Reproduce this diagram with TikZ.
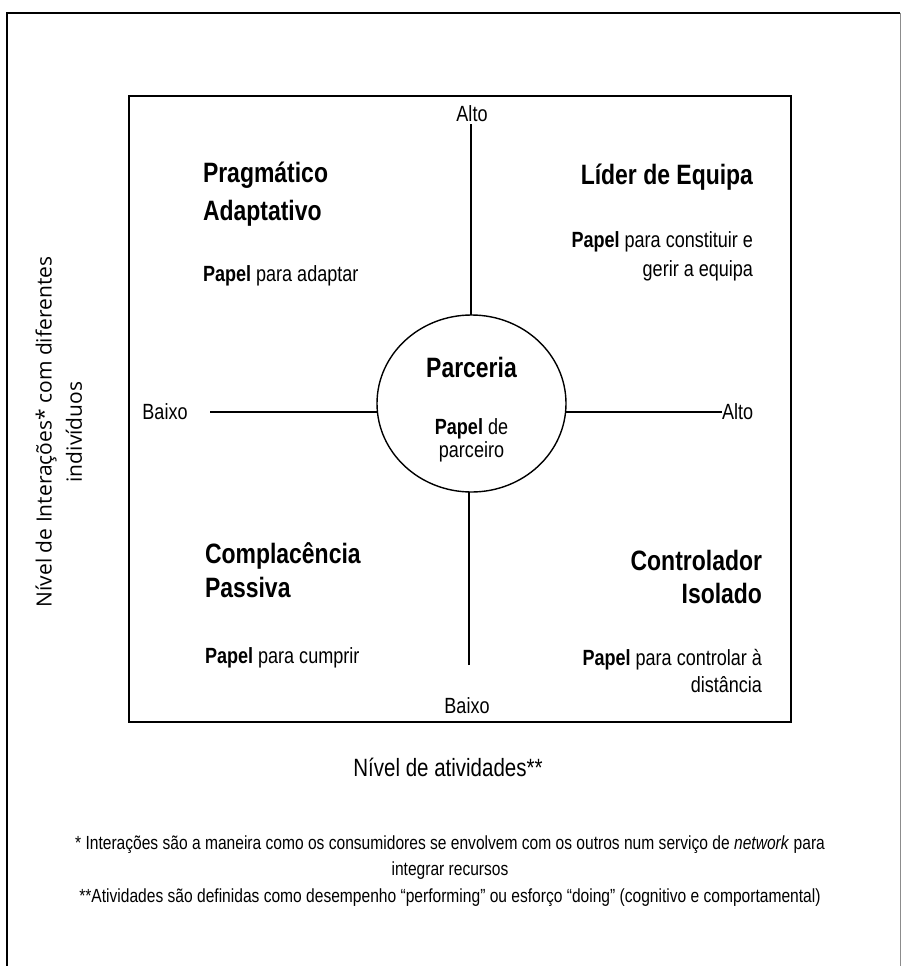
\documentclass[tikz,border=0pt]{standalone}
\usepackage{fontspec}
\setmainfont{Liberation Sans}[FakeStretch=0.82]
\newfontfamily\axisfont{Open Sans}
\usetikzlibrary{shapes.geometric}
\begin{document}
\begin{tikzpicture}[x=1pt,y=-1pt,
  every node/.style={inner sep=0pt,outer sep=0pt},
  title/.style={font=\fontsize{28}{30}\selectfont\bfseries},
  body/.style={font=\fontsize{22}{24}\selectfont},
  axis/.style={line width=1.4pt},
  ylabel/.style={font=\axisfont\fontsize{21}{24}\selectfont,rotate=90,anchor=center},
  note/.style={font=\fontsize{19}{21}\selectfont}]
\useasboundingbox (0,0) rectangle (902,966);
% outer frame (open at the bottom)
\draw[line width=2pt] (6.5,966) -- (6.5,13) -- (900,13);
\draw[line width=1pt,black!45] (900.5,13) -- (900.5,966);
% quadrant box
\draw[line width=2pt] (129,96) rectangle (791,722);

% centre
\node[draw,ellipse,line width=1.4pt,minimum width=189pt,minimum height=177pt] (parc) at (471.5,403.5) {};
\node[title,anchor=base] (parct) at (471.5,377) {Parceria};
\node[body,anchor=base] (parc1) at (471.5,434) {\textbf{Papel} de};
\node[body,anchor=base] (parc2) at (471.5,457) {parceiro};

% axis labels
\node[body,anchor=base] (altoT) at (472,121) {Alto};
\node[body,anchor=base] (baixoB) at (467,713) {Baixo};
\node[body,anchor=base] (baixoL) at (165,419) {Baixo};
\node[body,anchor=base west] (altoR) at (722,419) {Alto};
\coordinate (topend) at (471,124);
\coordinate (botend) at (469,665);
\coordinate (leftend) at (210,412);
\coordinate (rightend) at (722,412);
\draw[axis] (topend) -- (topend |- parc.north);
\draw[axis] (botend) -- (botend |- parc.south);
\draw[axis] (leftend) -- (leftend -| parc.west);
\draw[axis] (parc.east |- rightend) -- (rightend);

% top left
\node[title,anchor=base west] (pa1) at (203,182) {Pragmático};
\node[title,anchor=base west] (pa2) at (203,220) {Adaptativo};
\node[body,anchor=base west] (pa3) at (203,281) {\textbf{Papel} para adaptar};
% top right
\node[title,anchor=base east] (le1) at (753,184) {Líder de Equipa};
\node[body,anchor=base east] (le2) at (753,247) {\textbf{Papel} para constituir e};
\node[body,anchor=base east] (le3) at (753,276) {gerir a equipa};
% bottom left
\node[title,anchor=base west] (cp1) at (205,563) {Complacência};
\node[title,anchor=base west] (cp2) at (205,597) {Passiva};
\node[body,anchor=base west] (cp3) at (205,663) {\textbf{Papel} para cumprir};
% bottom right
\node[title,anchor=base east] (ci1) at (762,570) {Controlador};
\node[title,anchor=base east] (ci2) at (762,603) {Isolado};
\node[body,anchor=base east] (ci3) at (762,665) {\textbf{Papel} para controlar à};
\node[body,anchor=base east] (ci4) at (762,692) {distância};

% axis titles
\node[font=\fontsize{25}{27}\selectfont,anchor=base] (xlab) at (448,776) {Nível de atividades**};
\node[ylabel] (ylab1) at (46,432) {Nível de Interações* com diferentes};
\node[ylabel] (ylab2) at (74,432) {indivíduos};

% notes
\node[note,anchor=base] (n1) at (450,849) {* Interações são a maneira como os consumidores se envolvem com os outros num serviço de \textit{network} para};
\node[note,anchor=base] (n2) at (450,875) {integrar recursos};
\node[note,anchor=base] (n3) at (450,902) {**Atividades são definidas como desempenho “performing” ou esforço “doing” (cognitivo e comportamental)};
\end{tikzpicture}
\end{document}
